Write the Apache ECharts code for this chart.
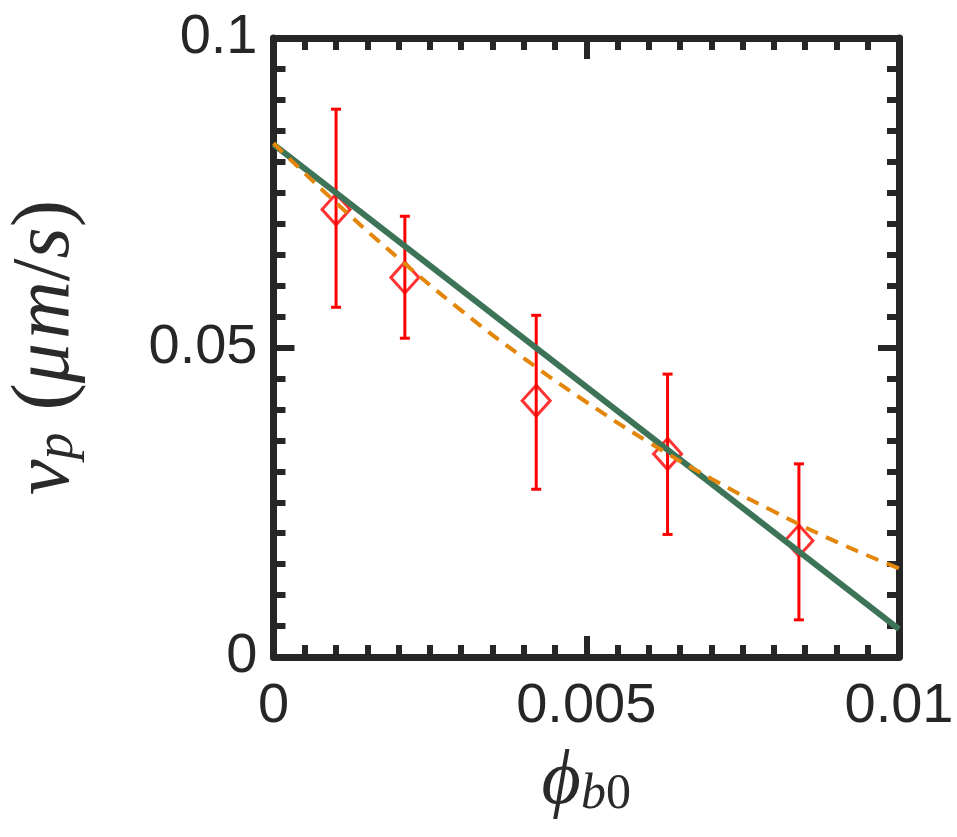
<!DOCTYPE html>
<html>
<head>
<meta charset="utf-8">
<script src="https://cdn.jsdelivr.net/npm/echarts@6/dist/echarts.min.js"></script>
<style>
html,body{margin:0;padding:0;background:#fff;}
#c{width:957px;height:837px;}
</style>
</head>
<body>
<div id="c"></div>
<script>
// ---- data ----
var phi      = [0.001, 0.0021, 0.0042, 0.0063, 0.0084];
var vp       = [0.0723, 0.0613, 0.0414, 0.0328, 0.0188];
var vpUpper  = [0.0885, 0.0712, 0.0552, 0.0457, 0.0312];
var vpLower  = [0.0565, 0.0515, 0.0271, 0.0198, 0.0060];

var fitLineX = [0, 0.01];
var fitLineY = [0.0828, 0.0045];

var fitCurveX = [0, 0.001, 0.002, 0.003, 0.004, 0.005, 0.006, 0.007, 0.008, 0.009, 0.01];
var fitCurveY = [0.0830, 0.0734, 0.0644, 0.0560, 0.0483, 0.0412, 0.0347, 0.0288, 0.0235, 0.0186, 0.0143];

var xTickValues = [0, 0.005, 0.01];
var xTickLabels = ['0', '0.005', '0.01'];
var yTickValues = [0, 0.05, 0.1];
var yTickLabels = ['0', '0.05', '0.1'];

function zip(a, b) { return a.map(function (v, i) { return [v, b[i]]; }); }
function lookup(vals, labels) {
  return function (v) {
    for (var i = 0; i < vals.length; i++) if (Math.abs(vals[i] - v) < 1e-9) return labels[i];
    return '';
  };
}

var AX = '#262626';
var axisCommon = {
  type: 'value',
  axisLine: { show: true, onZero: false, lineStyle: { color: AX, width: 7 } },
  axisTick: { show: true, inside: true, length: 21, lineStyle: { color: AX, width: 6 } },
  minorTick: { show: true, splitNumber: 10, length: 12, lineStyle: { color: AX, width: 6 } },
  splitLine: { show: false },
  minorSplitLine: { show: false }
};
function ax(extra) { return Object.assign({}, JSON.parse(JSON.stringify(axisCommon)), extra); }

var chart = echarts.init(document.getElementById('c'), null, { renderer: 'canvas' });

var errData = phi.map(function (x, i) { return [x, vpLower[i], vpUpper[i]]; });

var LBL = '#2a2a2a';
chart.setOption({
  animation: false,
  backgroundColor: '#fff',
  grid: { left: 273.5, right: 58, top: 38, bottom: 180, containLabel: false, outerBoundsMode: 'none' },
  xAxis: [
    ax({
      min: 0, max: 0.01, interval: 0.005, position: 'bottom',
      axisLabel: {
        show: true, margin: 22, fontFamily: 'Liberation Sans', fontSize: 56, color: AX,
        formatter: lookup(xTickValues, xTickLabels)
      },
      name: '{phi|ϕ}{sb|b}{s0|0}',
      nameLocation: 'middle',
      nameGap: 84,
      nameTextStyle: {
        rich: {
          phi: { fontFamily: 'Liberation Serif', fontStyle: 'italic', fontSize: 76, color: LBL, lineHeight: 84 },
          sb: { fontFamily: 'Liberation Serif', fontStyle: 'italic', fontSize: 50, color: LBL, lineHeight: 84, padding: [24, 0, 0, 0] },
          s0: { fontFamily: 'Liberation Serif', fontSize: 50, color: LBL, lineHeight: 84, padding: [24, 0, 0, 0] }
        }
      }
    }),
    ax({
      min: 0, max: 0.01, interval: 0.005, position: 'top',
      axisLabel: { show: false }
    })
  ],
  yAxis: [
    ax({
      min: 0, max: 0.1, interval: 0.05, position: 'left',
      axisLabel: {
        show: true, margin: 16, fontFamily: 'Liberation Sans', fontSize: 56, color: AX,
        formatter: lookup(yTickValues, yTickLabels)
      },
      name: '{v|v}{p|p}{sp|  }{u|(}{mu|μ}{th| }{mu|m}{u|/}{mu|s}{u|)}',
      nameLocation: 'middle',
      nameRotate: 90,
      nameGap: 184,
      nameTextStyle: {
        rich: {
          v: { fontFamily: 'Liberation Serif', fontStyle: 'italic', fontSize: 80, color: LBL, lineHeight: 86 },
          p: { fontFamily: 'Liberation Serif', fontStyle: 'italic', fontSize: 54, color: LBL, lineHeight: 86, padding: [22, 0, 0, 0] },
          sp: { fontFamily: 'Liberation Serif', fontSize: 44, color: LBL, lineHeight: 86 },
          th: { fontFamily: 'Liberation Serif', fontSize: 16, color: LBL, lineHeight: 86 },
          u: { fontFamily: 'Liberation Serif', fontSize: 82, color: LBL, lineHeight: 86 },
          mu: { fontFamily: 'Liberation Serif', fontStyle: 'italic', fontSize: 80, color: LBL, lineHeight: 86 }
        }
      }
    }),
    ax({
      min: 0, max: 0.1, interval: 0.05, position: 'right',
      axisLabel: { show: false }
    })
  ],
  series: [
    {
      type: 'custom',
      name: 'error',
      xAxisIndex: 0, yAxisIndex: 0,
      z: 2,
      data: errData,
      renderItem: function (params, api) {
        var x = api.value(0);
        var lo = api.coord([x, api.value(1)]);
        var hi = api.coord([x, api.value(2)]);
        var cap = 5;
        var st = { stroke: '#ff0000', lineWidth: 3 };
        return {
          type: 'group',
          children: [
            { type: 'line', shape: { x1: lo[0], y1: lo[1], x2: hi[0], y2: hi[1] }, style: st },
            { type: 'line', shape: { x1: hi[0] - cap, y1: hi[1], x2: hi[0] + cap, y2: hi[1] }, style: st },
            { type: 'line', shape: { x1: lo[0] - cap, y1: lo[1], x2: lo[0] + cap, y2: lo[1] }, style: st }
          ]
        };
      }
    },
    {
      type: 'scatter',
      name: 'data',
      z: 3,
      symbol: 'diamond',
      symbolSize: [28, 31],
      itemStyle: { color: 'rgba(0,0,0,0)', borderColor: '#ff0000', borderWidth: 3 },
      data: zip(phi, vp)
    },
    {
      type: 'line',
      name: 'linear',
      z: 4,
      symbol: 'none',
      lineStyle: { color: '#3d7357', width: 6 },
      data: zip(fitLineX, fitLineY)
    },
    {
      type: 'line',
      name: 'curve',
      z: 5,
      smooth: true,
      symbol: 'none',
      lineStyle: { color: '#e3860a', width: 4, type: [13, 9] },
      data: zip(fitCurveX, fitCurveY)
    }
  ]
});
</script>
</body>
</html>
